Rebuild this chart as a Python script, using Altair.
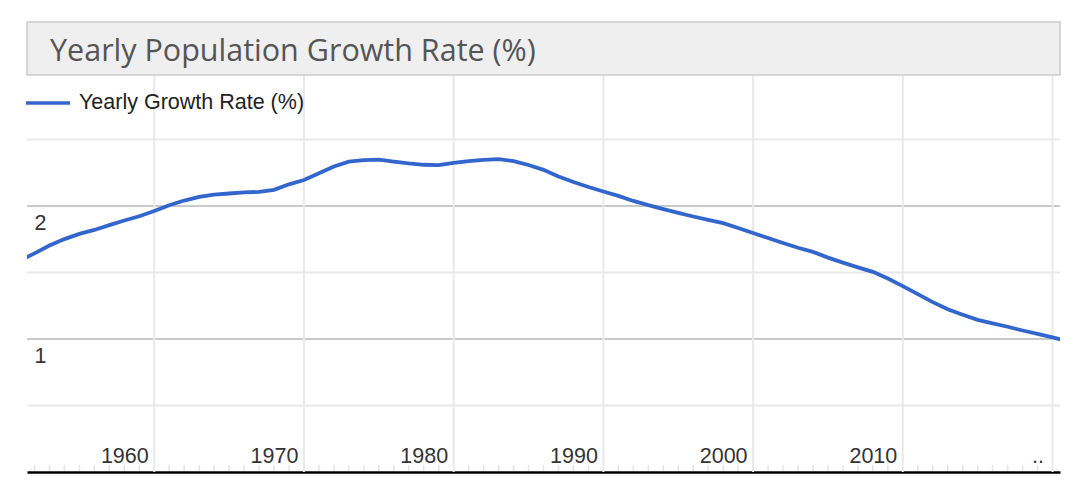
import altair as alt
import pandas as pd

TITLE = "Yearly Population Growth Rate (%)"
SERIES = "Yearly Growth Rate (%)"

YEARS = list(range(1953, 2024))
GROWTH = [
    1.586, 1.644, 1.703, 1.751, 1.790, 1.820, 1.856, 1.891, 1.923, 1.962,
    2.006, 2.041, 2.068, 2.086, 2.094, 2.102, 2.106, 2.122, 2.163, 2.195,
    2.246, 2.297, 2.333, 2.345, 2.348, 2.334, 2.320, 2.310, 2.308, 2.325,
    2.338, 2.347, 2.352, 2.338, 2.308, 2.272, 2.222, 2.180, 2.143, 2.109,
    2.076, 2.038, 2.006, 1.977, 1.949, 1.921, 1.895, 1.871, 1.835, 1.797,
    1.759, 1.722, 1.686, 1.655, 1.612, 1.574, 1.539, 1.505, 1.455, 1.398,
    1.337, 1.277, 1.224, 1.183, 1.144, 1.118, 1.092, 1.064, 1.038, 1.012,
    0.985,
]

X_DOMAIN = [1953.5, 2022.5]
Y_DOMAIN = [0, 3]
X_LABEL_YEARS = [1960, 1970, 1980, 1990, 2000, 2010, 2021]
X_GRID_YEARS = [1962, 1972, 1982, 1992, 2002, 2012, 2022]
X_MINOR_TICKS = [y for y in range(1954, 2023) if y not in X_GRID_YEARS]
Y_MAJOR = [1, 2, 3]
Y_MINOR = [0.5, 1.5, 2.5]
Y_LABELS = [1, 2]

W, H = 1033, 399
FS = 21.5

df = pd.DataFrame({"year": YEARS, "growth": GROWTH, "series": SERIES})
xs = alt.Scale(domain=X_DOMAIN, nice=False, zero=False)
ys = alt.Scale(domain=Y_DOMAIN, nice=False, zero=False)

x_axis = alt.Axis(
    values=X_LABEL_YEARS, format="d", title=None, grid=False, ticks=False, tickSize=0,
    domain=True, domainColor="#000000", domainWidth=2.4,
    labelPadding=-10, labelBaseline="alphabetic", labelAlign="center",
    labelFont="Arial", labelFontSize=FS, labelColor="#333333",
    labelFlush=False, labelOverlap=False,
    labelExpr="datum.value == 2021 ? '..' : datum.label",
)
y_axis = alt.Axis(
    values=Y_LABELS, title=None, grid=False, ticks=False, tickSize=0, domain=False,
    labelAlign="left", labelBaseline="top", labelPadding=-7, labelOffset=6.5,
    labelFont="Arial", labelFontSize=FS, labelColor="#333333",
)

minor_grid = alt.Chart(pd.DataFrame({"v": Y_MINOR})).mark_rule(
    color="#e9e9e9", strokeWidth=2
).encode(y=alt.Y("v:Q", scale=ys, axis=y_axis))

major_grid = alt.Chart(pd.DataFrame({"v": Y_MAJOR})).mark_rule(
    color="#c9c9c9", strokeWidth=2
).encode(y=alt.Y("v:Q", scale=ys, axis=y_axis))

v_grid = alt.Chart(pd.DataFrame({"year": X_GRID_YEARS})).mark_rule(
    color="#e9e9e9", strokeWidth=2
).encode(x=alt.X("year:Q", scale=xs, axis=x_axis))

minor_ticks = alt.Chart(pd.DataFrame({"year": X_MINOR_TICKS})).mark_tick(
    color="#d8d8d8", thickness=1.5, size=6, yOffset=-4
).encode(x=alt.X("year:Q", scale=xs, axis=x_axis), y=alt.Y(datum=0, scale=ys, axis=y_axis))

line = alt.Chart(df).mark_line(strokeWidth=3.8, clip=True).encode(
    x=alt.X("year:Q", scale=xs, axis=x_axis),
    y=alt.Y("growth:Q", scale=ys, axis=y_axis),
    color=alt.Color(
        "series:N",
        scale=alt.Scale(range=["#3366cc"]),
        legend=alt.Legend(
            orient="none", legendX=-3, legendY=6, title=None,
            symbolType="stroke", symbolSize=1936, symbolStrokeWidth=3.5,
            labelFont="Arial", labelFontSize=FS, labelColor="#222222",
            labelOffset=7, labelLimit=600, padding=0,
        ),
    ),
)

title_df = pd.DataFrame({"t": [TITLE]})
title_box = alt.Chart(title_df).mark_rect(
    fill="#efefef", stroke="#cccccc", strokeWidth=1.5
).encode(x=alt.value(0), x2=alt.value(W), y=alt.value(-51), y2=alt.value(2))
title_text = alt.Chart(title_df).mark_text(
    align="left", baseline="alphabetic", font="Open Sans", fontSize=30.5, color="#555555"
).encode(x=alt.value(23), y=alt.value(-12), text="t:N")

chart = alt.layer(
    minor_grid, major_grid, v_grid, minor_ticks, line, title_box, title_text
).properties(
    width=W, height=H,
    autosize=alt.AutoSizeParams(type="none"),
    padding={"left": 27, "top": 73, "right": 20, "bottom": 23},
    background="#ffffff",
).configure_view(strokeWidth=0)

chart.save("out.html", embed_options={"renderer": "svg", "actions": False})
